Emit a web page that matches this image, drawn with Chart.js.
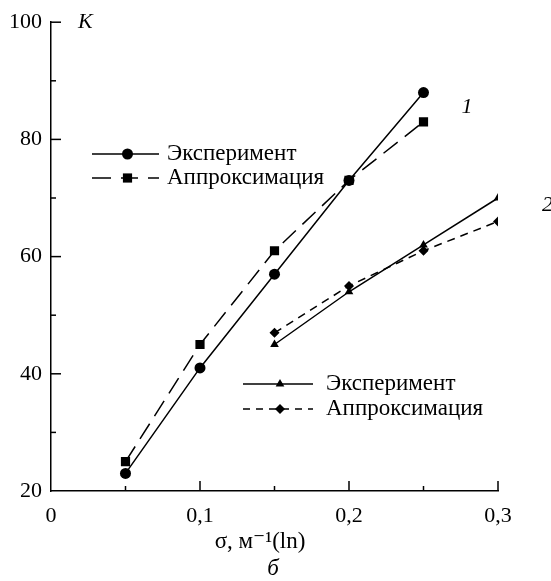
<!DOCTYPE html>
<html><head><meta charset="utf-8">
<script src="https://cdn.jsdelivr.net/npm/chart.js@4.4.1/dist/chart.umd.min.js"></script>
<style>html,body{margin:0;padding:0;background:#fff}#wrap{width:551px;height:581px;position:relative}</style>
</head><body><div id="wrap"><canvas id="c"></canvas></div>
<script>
// data
const sigma1=[0.05,0.1,0.15,0.2,0.25];
const exp1=[23,41,57,73,88];
const appr1=[25,45,61,73,83];
const sigma2=[0.15,0.2,0.25,0.3];
const exp2=[45,54,62,70];
const appr2=[47,55,61,66];
const xLabels=[0,0.1,0.2,0.3];
const yLabels=[20,40,60,80,100];
const names=['Эксперимент','Аппроксимация'];
const curveNames=['1','2'];

const SERIF='"Liberation Serif","DejaVu Serif",serif';
const pts=(xs,ys)=>xs.map((x,i)=>({x,y:ys[i]}));
const isLabel=(v,arr)=>arr.some(a=>Math.abs(a-v)<1e-6);

function ds(xs,ys,style,r,dash){
  return {data:pts(xs,ys),borderColor:'#000',backgroundColor:'#000',borderWidth:1.5,
    borderDash:dash,pointStyle:style,pointRadius:r,pointHoverRadius:r,pointBorderWidth:0,tension:0};
}

// axes ticks, legends and texts
const decor={id:'decor',afterDraw(c){
  const ctx=c.ctx,xs=c.scales.x,ys=c.scales.y;
  ctx.save();
  ctx.strokeStyle='#000';ctx.fillStyle='#000';ctx.lineWidth=1.5;
  xs.ticks.forEach(t=>{
    const px=xs.getPixelForValue(t.value),len=isLabel(t.value,xLabels)?10:5;
    if(t.value===0)return;
    ctx.beginPath();ctx.moveTo(px,ys.bottom);ctx.lineTo(px,ys.bottom-len);ctx.stroke();
  });
  ys.ticks.forEach(t=>{
    const py=ys.getPixelForValue(t.value),len=isLabel(t.value,yLabels)?10:5;
    if(t.value===20)return;
    ctx.beginPath();ctx.moveTo(xs.left,py);ctx.lineTo(xs.left+len,py);ctx.stroke();
  });
  // K, curve numbers
  ctx.font='italic 22px '+SERIF;ctx.textBaseline='middle';ctx.textAlign='left';
  ctx.fillText('K',78,22);
  ctx.fillText(curveNames[0],xs.getPixelForValue(0.25)+38,ys.getPixelForValue(85.5));
  ctx.fillText(curveNames[1],xs.getPixelForValue(0.3)+44,ys.getPixelForValue(68.7));
  // axis title
  ctx.font='23px '+SERIF;ctx.textAlign='center';
  ctx.fillText('σ, м⁻¹(ln)',260,542);
  ctx.font='italic 23px '+SERIF;
  ctx.fillText('б',273,569);
  // legends
  const leg=(x0,x1,y,dash,style,r,label,gap)=>{
    ctx.setLineDash(dash);ctx.beginPath();ctx.moveTo(x0,y);ctx.lineTo(x1,y);ctx.stroke();ctx.setLineDash([]);
    Chart.helpers.drawPoint(ctx,{pointStyle:style,radius:r,rotation:0,borderWidth:0},(x0+x1)/2+2,y);
    ctx.font='23px '+SERIF;ctx.textAlign='left';ctx.textBaseline='middle';
    ctx.fillText(label,x1+gap,y);
  };
  leg(92,159,154,[],'circle',5.5,names[0],8);
  leg(92,159,178,[19,10,17,10],'rect',6.5,names[1],8);
  leg(243,313,384,[],'triangle',5,names[0],13);
  leg(243,313,409,[7,6],'rectRot',5,names[1],13);
  ctx.restore();
}};

new Chart(document.getElementById('c'),{
  type:'line',
  data:{datasets:[
    ds(sigma1,exp1,'circle',5.5,[]),
    ds(sigma1,appr1,'rect',6.5,[18,9]),
    ds(sigma2,exp2,'triangle',5,[]),
    ds(sigma2,appr2,'rectRot',5,[8,6])
  ]},
  options:{
    responsive:true,maintainAspectRatio:false,animation:false,
    layout:{padding:{top:21,right:53,left:0,bottom:0}},
    plugins:{legend:{display:false},tooltip:{enabled:false}},
    scales:{
      x:{type:'linear',min:0,max:0.3,
        afterFit:s=>{s.height=90;},
        grid:{display:false,drawTicks:false},
        border:{display:true,color:'#000',width:1.5},
        ticks:{stepSize:0.05,autoSkip:false,maxRotation:0,padding:12,color:'#000',font:{family:SERIF,size:22},
          callback:v=>isLabel(v,xLabels)?(v===0?'0':v.toFixed(1).replace('.',',')):''}},
      y:{min:20,max:100,
        afterFit:s=>{s.width=51;},
        grid:{display:false,drawTicks:false},
        border:{display:true,color:'#000',width:1.5},
        ticks:{stepSize:10,autoSkip:false,padding:9,color:'#000',font:{family:SERIF,size:22},
          callback:v=>isLabel(v,yLabels)?String(v):''}}
    }
  },
  plugins:[decor]
});
</script></body></html>
